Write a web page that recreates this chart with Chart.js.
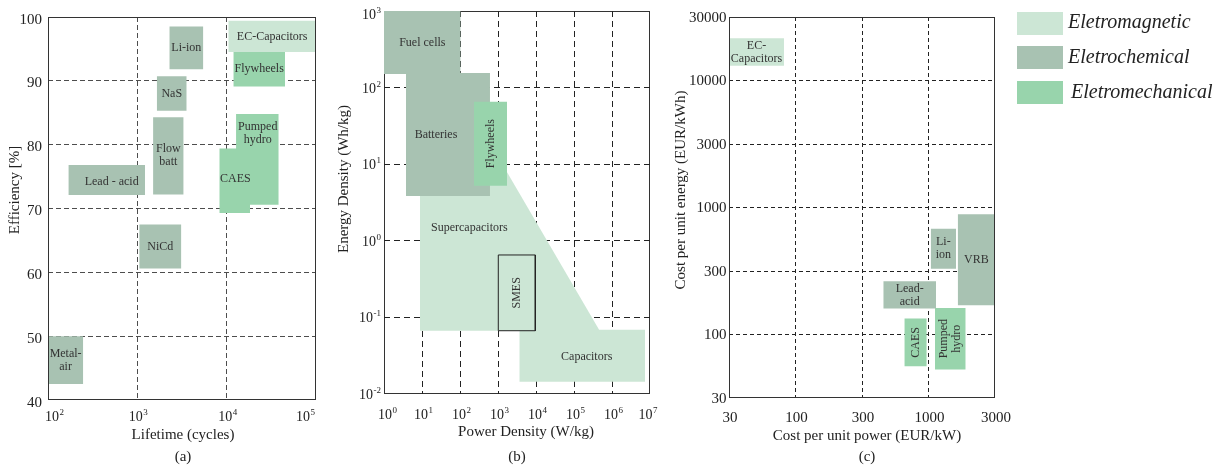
<!DOCTYPE html>
<html lang="en">
<head>
<meta charset="utf-8">
<title>Energy storage technologies</title>
<script src="https://cdn.jsdelivr.net/npm/chart.js@4.4.1/dist/chart.umd.min.js"></script>
<style>
  html, body { margin: 0; padding: 0; background: #fff; }
  #page { position: relative; width: 1227px; height: 468px; overflow: hidden; background: #fff; }
  #page canvas { position: absolute; left: 0; top: 0; }
  .swatch { position: absolute; left: 1017px; width: 46px; height: 23px; }
  .legtext { position: absolute; font: italic 20px "Liberation Serif", "Times New Roman", serif; color: #222; line-height: 23px; white-space: nowrap; }
</style>
</head>
<body>
<div id="page">
  <canvas id="panelA" width="1227" height="468"></canvas>
  <canvas id="panelB" width="1227" height="468"></canvas>
  <canvas id="panelC" width="1227" height="468"></canvas>
  <div class="swatch" id="swMag" style="top:12px"></div>
  <div class="legtext" style="left:1068px;top:10px">Eletromagnetic</div>
  <div class="swatch" id="swChem" style="top:46px"></div>
  <div class="legtext" style="left:1068px;top:45px">Eletrochemical</div>
  <div class="swatch" id="swMech" style="top:81px"></div>
  <div class="legtext" style="left:1071px;top:80px">Eletromechanical</div>
</div>
<script>
// ---------- Panel (a): efficiency [%] against lifetime (cycles) ----------
const aNames     = ['EC-Capacitors', 'Li-ion', 'Flywheels', 'NaS', 'Flow\nbatt', 'Lead - acid', 'Pumped\nhydro', 'CAES', 'NiCd', 'Metal-\nair'];
const aGroups    = ['mag', 'chem', 'mech', 'chem', 'chem', 'chem', 'mech', 'mech', 'chem', 'chem'];
const aLifeMin   = [10430, 2280, 11870, 1650, 1500, 169, 12730, 8270, 1050, 100];
const aLifeMax   = [100000, 5480, 44980, 3570, 3300, 1220, 38260, 18250, 3110, 248];
const aEffMin    = [94.5, 91.8, 89.1, 85.3, 72.2, 72.1, 70.6, 69.3, 60.6, 42.5];
const aEffMax    = [99.4, 98.5, 94.5, 90.7, 84.3, 76.8, 84.8, 79.4, 67.5, 50.0];
const aLabelLife = [null, null, null, null, null, 516, 22260, 12500, null, null];
const aLabelEff  = [null, null, null, null, null, 74.2, 81.8, 74.6, null, null];
const aLifeTicks = [1e2, 1e3, 1e4, 1e5];
const aEffTicks  = [40, 50, 60, 70, 80, 90, 100];

// ---------- Panel (b): energy density against power density ----------
const bNames     = ['Flywheels', 'Fuel cells', 'Batteries', 'Capacitors'];
const bGroups    = ['mech', 'chem', 'chem', 'mag'];
const bPowMin    = [233, 1, 3.79, 3636];
const bPowMax    = [1726, 104, 615, 7.39e6];
const bEnMin     = [5.24, 150.6, 3.85, 0.0145];
const bEnMax     = [65.5, 1000, 155, 0.069];
const bLabelPow  = [null, null, 23.4, 216000];
const bLabelEn   = [null, null, 24, 0.0307];
const bVertical  = ['Flywheels'];
// Supercapacitors: upper outline, filled down to a common floor
const superPow   = [8.86, 1306, 474000];
const superEn    = [10, 10, 0.067];
const superFloor = 0.067;
const superLabel = [176, 1.47];
// SMES: outlined only
const smesPow    = [1018, 9590];
const smesEn     = [0.067, 0.653];
const bPowTicks  = [1, 10, 100, 1e3, 1e4, 1e5, 1e6, 1e7];
const bEnTicks   = [0.01, 0.1, 1, 10, 100, 1000];

// ---------- Panel (c): cost per unit energy against cost per unit power ----------
const cNames     = ['EC-\nCapacitors', 'Li-\nion', 'VRB', 'Lead-\nacid', 'CAES', 'Pumped\nhydro'];
const cGroups    = ['mag', 'chem', 'chem', 'chem', 'mech', 'mech'];
const cPowMin    = [31.6, 1039, 1658, 457, 658, 1119];
const cPowMax    = [81.9, 1610, 3162, 1139, 970, 1904];
const cEnMin     = [13090, 329, 170, 160, 56.3, 53.1];
const cEnMax     = [21500, 679, 886, 262, 133.6, 162];
const cVertical  = ['CAES', 'Pumped\nhydro'];
const cPowTicks  = [31.62, 100, 316.2, 1000, 3162];
const cPowLabels = ['30', '100', '300', '1000', '3000'];
const cEnTicks   = [31.62, 100, 316.2, 1000, 3162, 10000, 31623];
const cEnLabels  = ['30', '100', '300', '1000', '3000', '10000', '30000'];

// ---------- shared styling ----------
const groupColor = { mag: '#cce6d5', chem: '#a8c2b2', mech: '#98d4ac' };
const SERIF = '"Liberation Serif", "Times New Roman", serif';
const W = 1227, H = 468;

document.getElementById('swMag').style.background = groupColor.mag;
document.getElementById('swChem').style.background = groupColor.chem;
document.getElementById('swMech').style.background = groupColor.mech;

function boxDataset(x0, x1, y0, y1, color) {
  return {
    data: [{ x: x0, y: y1 }, { x: x1, y: y1 }],
    fill: { value: y0 },
    backgroundColor: color,
    borderColor: 'rgba(0,0,0,0)',
    borderWidth: 0,
    pointRadius: 0,
    tension: 0
  };
}

function axisOptions(type, ticks, gridColor, dash, horizontal) {
  return {
    type: type,
    min: ticks[0],
    max: ticks[ticks.length - 1],
    afterBuildTicks: (scale) => { scale.ticks = ticks.map(v => ({ value: v })); },
    afterFit: (scale) => { if (horizontal) scale.height = 0; else scale.width = 0; },
    ticks: { display: false },
    grid: {
      drawTicks: false,
      lineWidth: 1,
      color: (c) => (c.index === 0 || c.index === ticks.length - 1) ? 'rgba(0,0,0,0)' : gridColor
    },
    border: { display: false, dash: dash }
  };
}

function baseOptions(pad, scales) {
  return {
    responsive: false,
    animation: false,
    devicePixelRatio: 1,
    events: [],
    layout: { padding: { left: pad[0], top: pad[1], right: W - pad[2], bottom: H - pad[3] } },
    scales: scales,
    plugins: { legend: { display: false }, tooltip: { enabled: false } }
  };
}

function framePlugin(hook, color) {
  const p = { id: 'frame' };
  p[hook] = (chart) => {
    const { ctx, chartArea: a } = chart;
    ctx.save();
    ctx.strokeStyle = color;
    ctx.lineWidth = 1;
    ctx.strokeRect(Math.round(a.left) + 0.5, Math.round(a.top) + 0.5,
                   Math.round(a.right - a.left) - 1, Math.round(a.bottom - a.top) - 1);
    ctx.restore();
  };
  return p;
}

function boxLabel(ctx, text, x, y, vertical) {
  const lines = text.split('\n');
  ctx.save();
  ctx.translate(x, y);
  if (vertical) ctx.rotate(-Math.PI / 2);
  ctx.font = '12px ' + SERIF;
  ctx.fillStyle = '#333';
  ctx.textAlign = 'center';
  ctx.textBaseline = 'middle';
  lines.forEach((ln, i) => ctx.fillText(ln, 0, (i - (lines.length - 1) / 2) * 13));
  ctx.restore();
}

// "10" with a raised exponent; align: 'center' | 'left' | 'right' of the whole label
function powLabel(ctx, x, y, exp, align) {
  const e = String(exp);
  ctx.font = '14px ' + SERIF;
  const wb = ctx.measureText('10').width;
  ctx.font = '9px ' + SERIF;
  const we = ctx.measureText(e).width;
  const total = wb + 0.5 + we;
  let x0 = x - total / 2;
  if (align === 'left') x0 = x;
  if (align === 'right') x0 = x - total;
  ctx.fillStyle = '#222';
  ctx.textAlign = 'left';
  ctx.textBaseline = 'alphabetic';
  ctx.font = '14px ' + SERIF;
  ctx.fillText('10', x0, y);
  ctx.font = '9px ' + SERIF;
  ctx.fillText(e, x0 + wb + 0.5, y - 6);
}

function plainText(ctx, s, x, y, size, align, rotate, italic) {
  ctx.save();
  ctx.translate(x, y);
  if (rotate) ctx.rotate(-Math.PI / 2);
  ctx.font = (italic ? 'italic ' : '') + size + 'px ' + SERIF;
  ctx.fillStyle = '#222';
  ctx.textAlign = align;
  ctx.textBaseline = 'alphabetic';
  ctx.fillText(s, 0, 0);
  ctx.restore();
}

function centre(scale, lo, hi) {
  return (scale.getPixelForValue(lo) + scale.getPixelForValue(hi)) / 2;
}

// ---------- Panel (a) ----------
const aSets = aNames.map((n, i) =>
  boxDataset(aLifeMin[i], aLifeMax[i], aEffMin[i], aEffMax[i], groupColor[aGroups[i]]));

new Chart(document.getElementById('panelA'), {
  type: 'line',
  data: { datasets: aSets },
  options: baseOptions([48, 17, 316, 400], {
    x: axisOptions('logarithmic', aLifeTicks, '#4d4d4d', [5, 3], true),
    y: axisOptions('linear', aEffTicks, '#4d4d4d', [5, 3], false)
  }),
  plugins: [framePlugin('afterDatasetsDraw', '#333'), {
    id: 'textA',
    afterDraw(chart) {
      const ctx = chart.ctx, xs = chart.scales.x, ys = chart.scales.y;
      aNames.forEach((n, i) => {
        const x = aLabelLife[i] != null ? xs.getPixelForValue(aLabelLife[i]) : centre(xs, aLifeMin[i], aLifeMax[i]);
        const y = aLabelEff[i] != null ? ys.getPixelForValue(aLabelEff[i]) : centre(ys, aEffMin[i], aEffMax[i]);
        boxLabel(ctx, n, x, y, false);
      });
      aLifeTicks.forEach((v, i) => {
        const px = xs.getPixelForValue(v);
        const exp = Math.round(Math.log10(v));
        if (i === 0) powLabel(ctx, px - 3, 421, exp, 'left');
        else if (i === aLifeTicks.length - 1) powLabel(ctx, px - 1, 421, exp, 'right');
        else powLabel(ctx, px + 1, 421, exp, 'center');
      });
      aEffTicks.forEach(v => plainText(ctx, String(v), 42, ys.getPixelForValue(v) + 6.5, 15, 'right'));
      plainText(ctx, 'Lifetime (cycles)', 183, 439, 15, 'center');
      plainText(ctx, '(a)', 183, 461, 15, 'center');
      plainText(ctx, 'Efficiency [%]', 19, 190, 15, 'center', true);
    }
  }]
});

// ---------- Panel (b) ----------
const bSets = [];
bSets.push({
  data: [
    { x: smesPow[0], y: smesEn[0] }, { x: smesPow[0], y: smesEn[1] },
    { x: smesPow[1], y: smesEn[1] }, { x: smesPow[1], y: smesEn[0] },
    { x: smesPow[0], y: smesEn[0] }
  ],
  fill: false, borderColor: '#222', borderWidth: 1, pointRadius: 0, tension: 0
});
bNames.forEach((n, i) => {
  if (n === 'Capacitors') {
    bSets.push({
      data: superPow.map((p, k) => ({ x: p, y: superEn[k] })),
      fill: { value: superFloor },
      backgroundColor: groupColor.mag, borderColor: 'rgba(0,0,0,0)', borderWidth: 0, pointRadius: 0, tension: 0
    });
  }
  bSets.push(boxDataset(bPowMin[i], bPowMax[i], bEnMin[i], bEnMax[i], groupColor[bGroups[i]]));
});

new Chart(document.getElementById('panelB'), {
  type: 'line',
  data: { datasets: bSets },
  options: baseOptions([384, 11, 650, 394], {
    x: axisOptions('logarithmic', bPowTicks, '#222', [6, 4], true),
    y: axisOptions('logarithmic', bEnTicks, '#222', [6, 4], false)
  }),
  plugins: [framePlugin('beforeDraw', '#333'), {
    id: 'textB',
    afterDraw(chart) {
      const ctx = chart.ctx, xs = chart.scales.x, ys = chart.scales.y;
      bNames.forEach((n, i) => {
        const x = bLabelPow[i] != null ? xs.getPixelForValue(bLabelPow[i]) : centre(xs, bPowMin[i], bPowMax[i]);
        const y = bLabelEn[i] != null ? ys.getPixelForValue(bLabelEn[i]) : centre(ys, bEnMin[i], bEnMax[i]);
        boxLabel(ctx, n, x, y, bVertical.includes(n));
      });
      boxLabel(ctx, 'Supercapacitors', xs.getPixelForValue(superLabel[0]), ys.getPixelForValue(superLabel[1]), false);
      boxLabel(ctx, 'SMES', centre(xs, smesPow[0], smesPow[1]), centre(ys, smesEn[0], smesEn[1]), true);
      bPowTicks.forEach((v, i) => {
        const exp = Math.round(Math.log10(v));
        const px = xs.getPixelForValue(v);
        const shift = i === 0 ? 3.5 : (i === bPowTicks.length - 1 ? -2 : 1.5);
        powLabel(ctx, px + shift, 419, exp, 'center');
      });
      bEnTicks.forEach(v => {
        const exp = Math.round(Math.log10(v));
        const py = ys.getPixelForValue(v);
        powLabel(ctx, 381, Math.max(py + 5, 19), exp, 'right');
      });
      plainText(ctx, 'Power Density (W/kg)', 526, 436, 15, 'center');
      plainText(ctx, '(b)', 517, 461, 15, 'center');
      plainText(ctx, 'Energy Density (Wh/kg)', 348, 179, 15, 'center', true);
    }
  }]
});

// ---------- Panel (c) ----------
const cSets = cNames.map((n, i) =>
  boxDataset(cPowMin[i], cPowMax[i], cEnMin[i], cEnMax[i], groupColor[cGroups[i]]));

new Chart(document.getElementById('panelC'), {
  type: 'line',
  data: { datasets: cSets },
  options: baseOptions([729, 17, 995, 398], {
    x: axisOptions('logarithmic', cPowTicks, '#222', [4, 3], true),
    y: axisOptions('logarithmic', cEnTicks, '#222', [4, 3], false)
  }),
  plugins: [framePlugin('afterDatasetsDraw', '#333'), {
    id: 'textC',
    afterDraw(chart) {
      const ctx = chart.ctx, xs = chart.scales.x, ys = chart.scales.y;
      cNames.forEach((n, i) => {
        boxLabel(ctx, n, centre(xs, cPowMin[i], cPowMax[i]), centre(ys, cEnMin[i], cEnMax[i]), cVertical.includes(n));
      });
      cPowTicks.forEach((v, i) => plainText(ctx, cPowLabels[i], xs.getPixelForValue(v) + 1, 422, 15, 'center'));
      cEnTicks.forEach((v, i) => plainText(ctx, cEnLabels[i], 726.5, ys.getPixelForValue(v) + 5, 15, 'right'));
      plainText(ctx, 'Cost per unit power (EUR/kW)', 867, 440, 15, 'center');
      plainText(ctx, '(c)', 867, 461, 15, 'center');
      plainText(ctx, 'Cost per unit energy (EUR/kWh)', 684.5, 190, 15, 'center', true);
    }
  }]
});
</script>
</body>
</html>
